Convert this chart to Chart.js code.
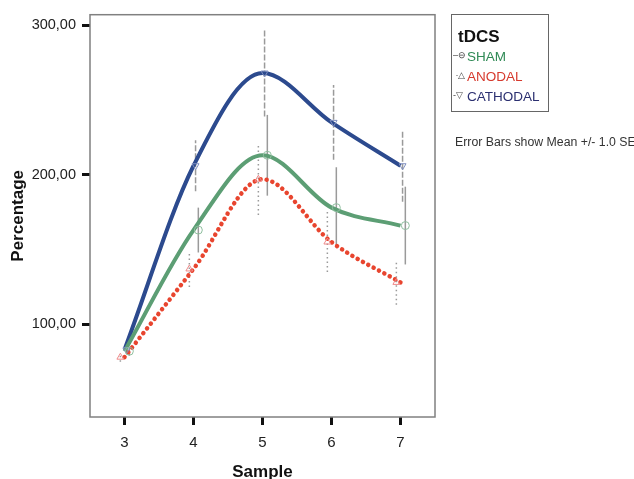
<!DOCTYPE html>
<html>
<head>
<meta charset="utf-8">
<script src="https://cdn.jsdelivr.net/npm/chart.js@4"></script>
<style>
    body { margin: 0; background: #fff; }
    #wrap { position: relative; width: 634px; height: 479px; overflow: hidden; font-family: "Liberation Sans", Arial, sans-serif; }
    #legendBox { position: absolute; left: 451px; top: 14px; width: 96px; height: 96px; border: 1px solid #666; }
    #legendBox .ttl { position: absolute; left: 6px; top: 12px; font-size: 17px; font-weight: bold; color: #111; }
    #legendBox .row { position: absolute; left: 1px; font-size: 13.5px; white-space: nowrap; }
    #legendBox .sym { color: #444; font-size: 9px; display: inline-block; width: 14px; overflow: hidden; vertical-align: 1px; }
    #note { position: absolute; left: 455px; top: 135px; font-size: 12.3px; color: #333; white-space: nowrap; }
</style>
</head>
<body>
<div id="wrap">
    <canvas id="chart" width="634" height="479"></canvas>
    <div id="legendBox">
        <div class="ttl">tDCS</div>
        <div class="row" style="top: 34px;"><span class="sym">–&#x2296;</span><span style="color:#2f8a55;">SHAM</span></div>
        <div class="row" style="top: 54px;"><span class="sym">&nbsp;·&#x25B3;</span><span style="color:#d63a2e;">ANODAL</span></div>
        <div class="row" style="top: 74px;"><span class="sym">-&#x25BD;</span><span style="color:#2b2f70;">CATHODAL</span></div>
    </div>
    <div id="note">Error Bars show Mean +/- 1.0 SE</div>
</div>
<script>
// Data
const samples = [3, 4, 5, 6, 7];
const shamMean = [82, 163, 213, 178, 166];
const shamSE = [3, 15, 27, 27, 26];
const anodalMean = [78, 137, 197, 155, 128];
const anodalSE = [3, 12, 24, 20, 15];
const cathodalMean = [83, 206, 268, 235, 206];
const cathodalSE = [3, 17, 29, 25, 24];
const yTickValues = [100, 200, 300];

const GREEN = '#5c9e74';
const RED = '#e8452f';
const BLUE = '#2c4a8e';

function toPoints(means, shift) {
    return samples.map((s, i) => ({ x: s + shift, y: means[i] }));
}

function fmt(v) {
    return v.toFixed(2).replace('.', ',');
}

// frame around the plot area + error bars
const framePlugin = {
    id: 'frame',
    beforeDatasetsDraw(chart) {
        const ctx = chart.ctx;
        const xs = chart.scales.x;
        const ys = chart.scales.y;
        chart.data.datasets.forEach(ds => {
            if (!ds.errors) return;
            ctx.save();
            ctx.strokeStyle = '#9a9a9a';
            ctx.lineWidth = 1.5;
            ctx.setLineDash(ds.errDash);
            ds.data.forEach((p, i) => {
                const px = xs.getPixelForValue(p.x);
                ctx.beginPath();
                ctx.moveTo(px, ys.getPixelForValue(p.y - ds.errors[i]));
                ctx.lineTo(px, ys.getPixelForValue(p.y + ds.errors[i]));
                ctx.stroke();
            });
            ctx.restore();
        });
    },
    afterDraw(chart) {
        const a = chart.chartArea;
        const ctx = chart.ctx;
        ctx.save();
        ctx.strokeStyle = '#808080';
        ctx.lineWidth = 1.5;
        ctx.strokeRect(a.left, a.top, a.right - a.left, a.bottom - a.top);
        ctx.restore();
    }
};

const lineBase = {
    showLine: true,
    cubicInterpolationMode: 'monotone',
    pointRadius: 0,
    borderWidth: 4,
    fill: false
};

const markerBase = {
    showLine: false,
    pointRadius: 4,
    pointBorderWidth: 1,
    pointBackgroundColor: 'rgba(255,255,255,0)'
};

new Chart(document.getElementById('chart'), {
    type: 'scatter',
    data: {
        datasets: [
            Object.assign({}, markerBase, {
                label: 'SHAM err', data: toPoints(shamMean, 0.07), errors: shamSE, errDash: [],
                pointStyle: 'circle', pointBorderColor: '#8fbf9f'
            }),
            Object.assign({}, markerBase, {
                label: 'ANODAL err', data: toPoints(anodalMean, -0.06), errors: anodalSE, errDash: [1.5, 3],
                pointStyle: 'triangle', pointBorderColor: '#f08a8a'
            }),
            Object.assign({}, markerBase, {
                label: 'CATHODAL err', data: toPoints(cathodalMean, 0.03), errors: cathodalSE, errDash: [6, 2],
                pointStyle: 'triangle', pointRotation: 180, pointBorderColor: '#7f8fc0'
            }),
            Object.assign({}, lineBase, {
                label: 'SHAM', data: toPoints(shamMean, 0), borderColor: GREEN
            }),
            Object.assign({}, lineBase, {
                label: 'ANODAL', data: toPoints(anodalMean, 0), borderColor: RED,
                borderDash: [0.1, 6], borderCapStyle: 'round', borderWidth: 4.5
            }),
            Object.assign({}, lineBase, {
                label: 'CATHODAL', data: toPoints(cathodalMean, 0), borderColor: BLUE
            })
        ]
    },
    options: {
        responsive: false,
        animation: false,
        layout: { padding: { left: 0, top: 14, right: 199, bottom: 0 } },
        plugins: {
            legend: { display: false },
            tooltip: { enabled: false }
        },
        scales: {
            x: {
                type: 'linear',
                min: 2.5,
                max: 7.5,
                afterBuildTicks: axis => { axis.ticks = samples.map(v => ({ value: v })); },
                afterFit: axis => { axis.height = 62; },
                grid: { drawOnChartArea: false, drawTicks: true, tickLength: 8, tickWidth: 3, tickColor: '#111' },
                border: { display: false },
                ticks: {
                    padding: 9,
                    color: '#222',
                    font: { family: '"Liberation Sans", Arial, sans-serif', size: 15 },
                    callback: v => String(v)
                },
                title: {
                    display: true,
                    text: 'Sample',
                    color: '#111',
                    padding: { top: 0, bottom: -4 },
                    font: { family: '"Liberation Sans", Arial, sans-serif', size: 17, weight: 'bold' }
                }
            },
            y: {
                min: 38,
                max: 307,
                afterBuildTicks: axis => { axis.ticks = yTickValues.map(v => ({ value: v })); },
                afterFit: axis => { axis.width = 90; },
                grid: { drawOnChartArea: false, drawTicks: true, tickLength: 8, tickWidth: 3, tickColor: '#111' },
                border: { display: false },
                ticks: {
                    padding: 6,
                    color: '#222',
                    font: { family: '"Liberation Sans", Arial, sans-serif', size: 14.5 },
                    callback: v => fmt(v)
                },
                title: {
                    display: true,
                    text: 'Percentage',
                    color: '#111',
                    padding: { top: 8, bottom: 0 },
                    font: { family: '"Liberation Sans", Arial, sans-serif', size: 17, weight: 'bold' }
                }
            }
        }
    },
    plugins: [framePlugin]
});
</script>
</body>
</html>
